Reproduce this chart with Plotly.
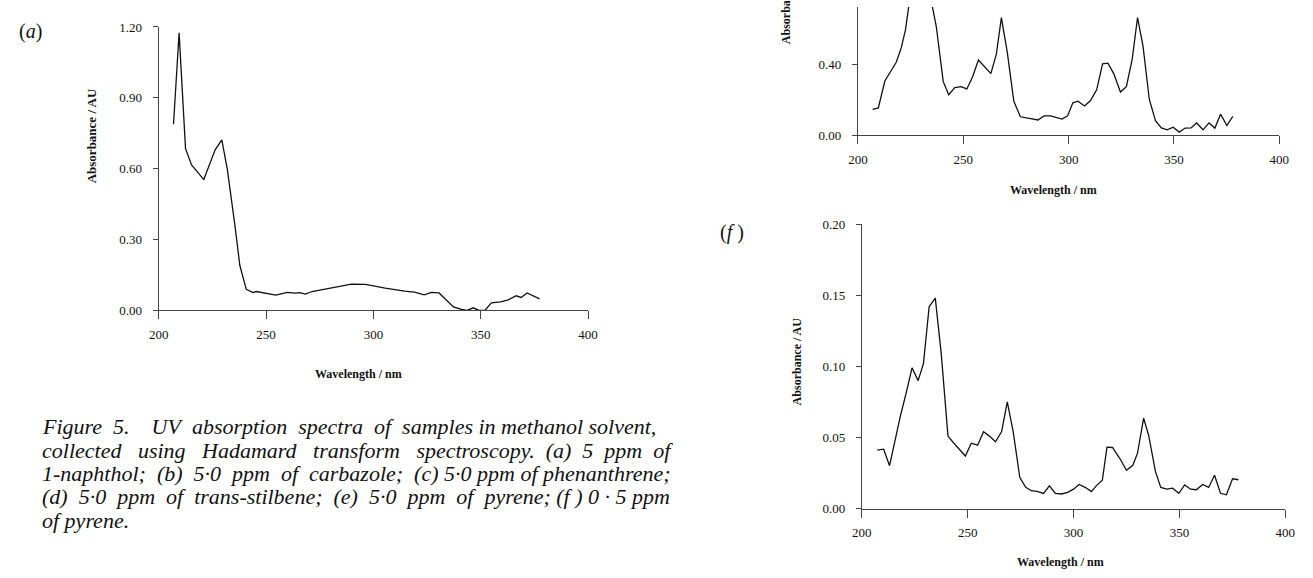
import plotly.graph_objects as go

W, H = 1313, 578

# ---------------- data ----------------
# (a) 5 ppm 1-naphthol
wl_a = [206.9, 209.5, 212.5, 215.3, 221.0, 226.3, 229.4, 232.0, 235.5, 237.8,
        240.8, 243.9, 245.4, 254.6, 259.9, 263.5, 265.8, 268.3, 271.4, 279.0,
        285.2, 289.8, 296.3, 305.5, 314.6, 319.1, 323.7, 327.0, 330.6, 333.7,
        337.3, 341.0, 343.7, 346.5, 349.2, 351.9, 355.0, 359.2, 362.8, 366.5,
        368.8, 371.6, 374.6, 377.4]
abs_a = [0.788, 1.175, 0.685, 0.616, 0.554, 0.680, 0.722, 0.595, 0.360, 0.190,
         0.089, 0.076, 0.080, 0.065, 0.076, 0.073, 0.075, 0.069, 0.080, 0.094,
         0.103, 0.111, 0.110, 0.094, 0.082, 0.077, 0.066, 0.076, 0.074, 0.045,
         0.015, 0.004, 0.000, 0.011, 0.000, 0.000, 0.032, 0.036, 0.045, 0.062,
         0.055, 0.074, 0.062, 0.049]

# (e) 5.0 ppm pyrene (top of panel cut off)
wl_e = [207.0, 209.7, 212.8, 215.9, 218.2, 220.6, 222.6, 225.5, 228.3, 231.0,
        234.2, 237.2, 238.8, 240.5, 243.1, 246.0, 248.9, 251.7, 254.4, 257.2,
        263.1, 265.7, 268.1, 270.9, 274.0, 277.1, 281.3, 285.5, 288.3, 291.4,
        296.9, 299.5, 302.0, 304.4, 307.6, 310.4, 313.3, 316.1, 318.6, 321.4,
        324.6, 327.4, 330.2, 332.7, 335.3, 338.3, 341.2, 344.0, 346.8, 349.6,
        352.5, 355.3, 358.1, 360.7, 363.8, 366.6, 369.4, 372.1, 375.1, 377.9]
abs_e = [0.147, 0.155, 0.308, 0.368, 0.414, 0.497, 0.599, 0.850, 0.950, 0.930,
         0.800, 0.617, 0.470, 0.304, 0.230, 0.271, 0.276, 0.263, 0.331, 0.427,
         0.350, 0.460, 0.667, 0.470, 0.193, 0.105, 0.096, 0.087, 0.110, 0.110,
         0.092, 0.110, 0.184, 0.193, 0.166, 0.197, 0.258, 0.405, 0.409, 0.350,
         0.245, 0.276, 0.433, 0.668, 0.506, 0.203, 0.083, 0.042, 0.031, 0.046,
         0.018, 0.041, 0.042, 0.070, 0.031, 0.070, 0.041, 0.120, 0.055, 0.107]

# (f) 0.5 ppm pyrene
wl_f = [207.3, 210.3, 213.1, 215.7, 218.2, 220.9, 223.7, 226.6, 229.1, 231.8,
        234.7, 237.5, 239.1, 240.7, 243.5, 246.1, 248.9, 251.7, 254.7, 257.5,
        260.3, 263.1, 266.0, 268.7, 271.5, 274.6, 277.4, 280.1, 283.2, 285.8,
        288.6, 291.4, 294.4, 297.2, 300.0, 302.6, 305.5, 308.4, 310.7, 313.6,
        315.8, 318.4, 321.8, 325.0, 328.0, 330.2, 333.1, 335.5, 337.8, 338.7,
        341.2, 344.0, 346.8, 349.7, 352.5, 355.3, 358.0, 361.0, 363.8, 366.6,
        369.4, 372.2, 375.1, 377.9]
abs_f = [0.0412, 0.0418, 0.0302, 0.0490, 0.0650, 0.0810, 0.0990, 0.0900, 0.1020, 0.1420,
         0.1480, 0.1090, 0.0790, 0.0510, 0.0460, 0.0420, 0.0370, 0.0460, 0.0446, 0.0540,
         0.0510, 0.0470, 0.0540, 0.0750, 0.0540, 0.0220, 0.0150, 0.0126, 0.0119, 0.0107,
         0.0160, 0.0107, 0.0103, 0.0114, 0.0137, 0.0170, 0.0150, 0.0120, 0.0160, 0.0200,
         0.0432, 0.0430, 0.0354, 0.0270, 0.0305, 0.0390, 0.0636, 0.0514, 0.0330, 0.0260,
         0.0149, 0.0137, 0.0144, 0.0108, 0.0167, 0.0137, 0.0133, 0.0170, 0.0149, 0.0235,
         0.0108, 0.0097, 0.0210, 0.0203]

x_ticks = [200, 250, 300, 350, 400]
y_ticks_a = [0.00, 0.30, 0.60, 0.90, 1.20]
y_ticks_e = [0.00, 0.40, 0.80, 1.20]
y_ticks_f = [0.00, 0.05, 0.10, 0.15, 0.20]

x_title = "Wavelength / nm"
y_title = "Absorbance / AU"
caption_lines = [
    "Figure 5.  UV absorption spectra of samples in methanol solvent,",
    "collected using Hadamard transform spectroscopy. (a) 5 ppm of",
    "1-naphthol; (b) 5·0 ppm of carbazole; (c) 5·0 ppm of phenanthrene;",
    "(d) 5·0 ppm of trans-stilbene; (e) 5·0 ppm of pyrene; (f ) 0 · 5 ppm",
    "of pyrene.",
]
# extra word-space padding to imitate the justified setting
caption_pad = [7, 12, 6, 9, 0]

NB = "\u00a0"

def justify(line, extra):
    words = line.split(" ")
    gaps = len(words) - 1
    if gaps <= 0 or extra <= 0:
        return line.replace(" ", NB)
    out = words[0]
    for i, w in enumerate(words[1:]):
        n = extra // gaps + (1 if i < extra % gaps else 0)
        out += NB * (1 + n) + w
    return out

# ---------------- layout helpers ----------------
def px(x):
    return x / W

def py(y):
    return 1 - y / H

TICKFONT = dict(family="Liberation Serif", size=13, color="#111")
AXCOL = "#444"

fig = go.Figure()
fig.add_trace(go.Scatter(x=wl_a, y=abs_a, mode="lines", line=dict(color="#111", width=1.3),
                         xaxis="x", yaxis="y", showlegend=False, hoverinfo="skip"))
fig.add_trace(go.Scatter(x=wl_e, y=abs_e, mode="lines", line=dict(color="#111", width=1.3),
                         xaxis="x2", yaxis="y2", showlegend=False, hoverinfo="skip"))
fig.add_trace(go.Scatter(x=wl_f, y=abs_f, mode="lines", line=dict(color="#111", width=1.3),
                         xaxis="x3", yaxis="y3", showlegend=False, hoverinfo="skip"))

def xaxis(domain, anchor):
    return dict(domain=domain, anchor=anchor, range=[200, 400], tickvals=x_ticks,
                showgrid=False, zeroline=False, showline=True, linecolor=AXCOL, linewidth=1,
                ticks="outside", ticklen=8, tickcolor=AXCOL, tickfont=TICKFONT,
                ticklabelstandoff=4, fixedrange=True)

def yaxis(domain, anchor, rng, vals):
    return dict(domain=domain, anchor=anchor, range=rng, tickvals=vals, tickformat=".2f",
                showgrid=False, zeroline=False, showline=True, linecolor=AXCOL, linewidth=1,
                ticks="outside", ticklen=5, tickcolor=AXCOL, tickfont=TICKFONT,
                ticklabelstandoff=8, fixedrange=True)

fig.update_layout(
    width=W, height=H,
    margin=dict(l=0, r=0, t=0, b=0),
    paper_bgcolor="white", plot_bgcolor="white",
    xaxis=xaxis([px(151), px(587)], "y"),
    yaxis=yaxis([py(311.5), py(20.5)], "x", [0, 1.2], y_ticks_a),
    xaxis2=xaxis([px(861), px(1289)], "y2"),
    yaxis2=yaxis([py(131.7), 1.0], "x2", [0, 0.7276], y_ticks_e),
    xaxis3=xaxis([px(865), px(1295)], "y3"),
    yaxis3=yaxis([py(515), py(223)], "x3", [0, 0.2], y_ticks_f),
)

ann = []
def label(text, x, y, size, angle=0, bold=True, family="Liberation Serif"):
    t = f"<b>{text}</b>" if bold else text
    ann.append(dict(text=t, x=px(x), y=py(y), xref="paper", yref="paper",
                    xanchor="center", yanchor="middle", showarrow=False, textangle=angle,
                    font=dict(family=family, size=size, color="#111")))

# axis titles
label(x_title, 354, 377, 12)
label(x_title, 1060, 188, 12)
label(x_title, 1067, 570, 12)
label(y_title, 83, 132, 13, angle=-90)
label(y_title, 788, -7, 12, angle=-90)
label(y_title, 799, 364, 12, angle=-90)

# panel labels
label("(<i>a</i>)", 21, 25, 20, bold=False)
label("(<i>f</i> )", 733, 232, 20, bold=False)

# caption
cap_y = [431, 455, 479, 503, 527]
for line, pad, yy in zip(caption_lines, caption_pad, cap_y):
    ann.append(dict(text=f"<i>{justify(line, pad)}</i>", x=px(30), y=py(yy),
                    xref="paper", yref="paper",
                    xanchor="left", yanchor="middle", showarrow=False,
                    font=dict(family="Liberation Serif", size=22, color="#111")))

fig.update_layout(annotations=ann)
fig.write_html("out.html")
